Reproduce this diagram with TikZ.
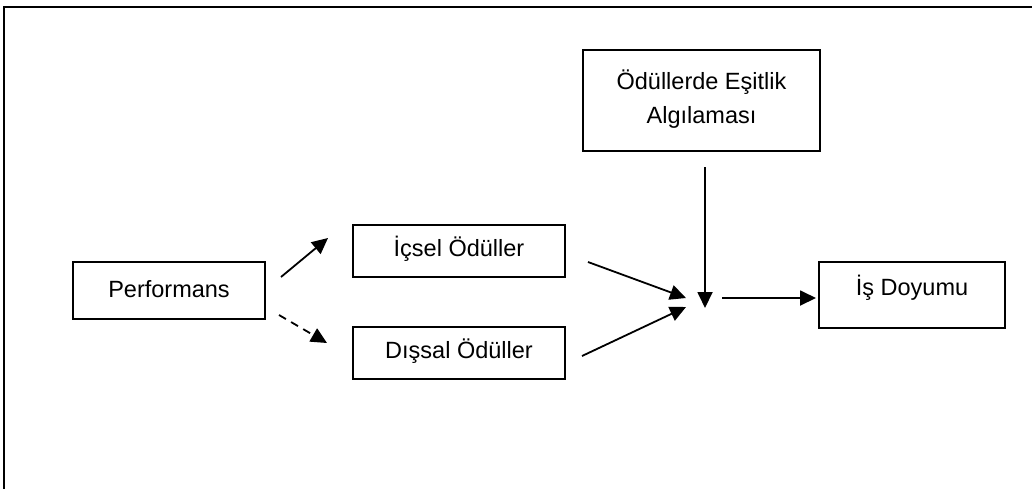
\documentclass[tikz,border=0pt]{standalone}
\usepackage{fontspec}
\setmainfont{Liberation Sans}
\usetikzlibrary{arrows.meta}
\begin{document}
\begin{tikzpicture}[x=1pt,y=-1pt,
  box/.style={draw=black, line width=1.8pt, rectangle, inner sep=0pt},
  lbl/.style={font=\fontsize{23.5}{34}\selectfont, align=center, inner sep=0pt},
  conn/.style={line width=1.8pt, -{Triangle[length=16pt,width=15pt]}},
  dashconn/.style={conn, dash pattern=on 8pt off 6pt}
]
\useasboundingbox (0,0) rectangle (1032,488);
% outer frame (continues past the right and bottom edges)
\coordinate (fbl) at (4,490);
\coordinate (ftr) at (1034,7);
\draw[line width=1.8pt] (fbl) |- (ftr);

% boxes
\node[box, minimum width=192pt, minimum height=57pt] (perf) at (169,290.5) {};
\node[lbl] (perft) at (169,289) {Performans};

\node[box, minimum width=212pt, minimum height=52pt] (icsel) at (459,251) {};
\node[lbl] (icselt) at (459,249) {İçsel Ödüller};

\node[box, minimum width=212pt, minimum height=52pt] (dissal) at (459,353) {};
\node[lbl] (dissalt) at (459,351) {Dışsal Ödüller};

\node[box, minimum width=237pt, minimum height=101pt] (esit) at (701.5,100.5) {};
\node[lbl] (esitt) at (701.5,99) {Ödüllerde Eşitlik\\Algılaması};

\node[box, minimum width=186pt, minimum height=66pt] (doyum) at (912,295) {};
\node[lbl] (doyumt) at (912,288) {İş Doyumu};

% connector end points
\coordinate (p1s) at (281,277);
\coordinate (p1e) at (328,238);
\coordinate (p2s) at (279,315);
\coordinate (p2e) at (327,343);
\coordinate (i1s) at (588,262);
\coordinate (i1e) at (686,298);
\coordinate (d1s) at (582,356);
\coordinate (d1e) at (686,307);
\coordinate (v1s) at (705,167);
\coordinate (v1e) at (705,308);
\coordinate (h1s) at (722,298);
\coordinate (h1e) at (816,298);

% connectors
\draw[conn] (p1s) -- (p1e);
\draw[dashconn] (p2s) -- (p2e);
\draw[conn] (i1s) -- (i1e);
\draw[conn] (d1s) -- (d1e);
\draw[conn] (v1s) -- (v1e);
\draw[conn] (h1s) -- (h1e);
\end{tikzpicture}
\end{document}
